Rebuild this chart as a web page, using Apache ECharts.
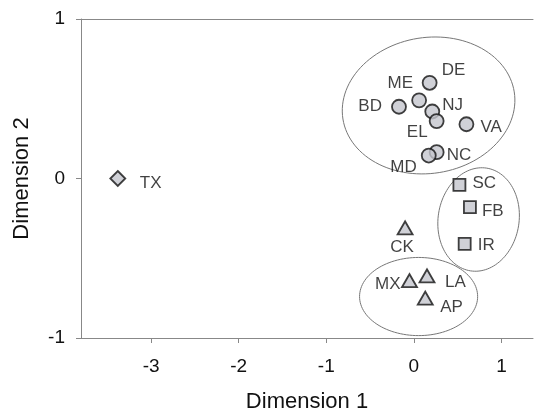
<!DOCTYPE html>
<html>
<head>
<meta charset="utf-8">
<script src="https://cdn.jsdelivr.net/npm/echarts@6/dist/echarts.min.js"></script>
<style>html,body{margin:0;padding:0;background:#fff;}#c{width:534px;height:414px;}</style>
</head>
<body>
<div id="c"></div>
<script>
// ---- data ----
const circleNames = ['DE', 'ME', 'BD', 'NJ', 'EL', 'VA', 'NC', 'MD'];
const circleX = [0.18, 0.06, -0.17, 0.21, 0.26, 0.60, 0.26, 0.17];
const circleY = [0.60, 0.49, 0.45, 0.42, 0.36, 0.34, 0.165, 0.144];

const squareNames = ['SC', 'FB', 'IR'];
const squareX = [0.52, 0.64, 0.58];
const squareY = [-0.04, -0.18, -0.41];

const triangleNames = ['CK', 'MX', 'LA', 'AP'];
const triangleX = [-0.10, -0.05, 0.15, 0.13];
const triangleY = [-0.31, -0.64, -0.61, -0.75];

const diamondNames = ['TX'];
const diamondX = [-3.38];
const diamondY = [0.0];

// cluster ellipses: centre x, centre y, half-width (x units), half-height (y units), tilt (deg)
const ellipseCX = [0.168, 0.739, 0.054];
const ellipseCY = [0.458, -0.257, -0.74];
const ellipseRX = [0.99, 0.462, 0.674];
const ellipseRY = [0.426, 0.326, 0.245];
const ellipseTilt = [9, -9, 0];

const xTicks = [-3, -2, -1, 0, 1];
const yTicks = [-1, 0, 1];

// ---- label placement (style) ----
const labelPlace = {
  TX: [22, 5, 'left'], DE: [12, -12, 'left'], ME: [-6, -17, 'right'], BD: [-17, 0, 'right'],
  NJ: [10, -6, 'left'], EL: [-9, 11, 'right'], VA: [14, 3, 'left'], NC: [10, 3, 'left'],
  MD: [-12, 12, 'right'], SC: [13, -2, 'left'], FB: [12, 4, 'left'], IR: [13, 1, 'left'],
  CK: [-3, 19, 'center'], MX: [-9, 4, 'right'], LA: [18, 7, 'left'], AP: [15, 9, 'left']
};

const FONT = '"Liberation Sans", Arial, sans-serif';
const fill = '#c4c6cd';
const TEXT = '#111';

function build(names, xs, ys) {
  return names.map((n, i) => {
    const p = labelPlace[n];
    return {
      name: n,
      value: [xs[i], ys[i]],
      label: { show: true, position: 'inside', offset: [p[0], p[1]], align: p[2], verticalAlign: 'middle' }
    };
  });
}

const labelStyle = { formatter: '{b}', fontFamily: FONT, fontSize: 17, color: TEXT };
const itemStyle = { color: fill, borderColor: '#111', borderWidth: 1.8 };

const ellipseData = ellipseCX.map((c, i) => [c, ellipseCY[i], ellipseRX[i], ellipseRY[i], ellipseTilt[i]]);

const chart = echarts.init(document.getElementById('c'), null, { renderer: 'canvas' });
chart.setOption({
  animation: false,
  backgroundColor: '#fff',
  grid: { left: 81, top: 19, right: 1, bottom: 76, containLabel: false, outerBoundsMode: 'none' },
  xAxis: [{
    type: 'value', min: -3.8, max: 1.36,
    splitLine: { show: false },
    axisLine: { show: true, onZero: false, lineStyle: { color: '#888', width: 1 } },
    axisTick: { show: true, inside: false, length: 5, customValues: xTicks, lineStyle: { color: '#888' } },
    axisLabel: { customValues: xTicks, fontFamily: FONT, fontSize: 19, color: TEXT, margin: 19 },
    name: 'Dimension 1', nameLocation: 'middle', nameGap: 53,
    nameTextStyle: { fontFamily: FONT, fontSize: 22, color: TEXT }
  }, {
    type: 'value', position: 'top', min: -3.8, max: 1.36,
    splitLine: { show: false }, axisTick: { show: false }, axisLabel: { show: false },
    axisLine: { show: true, onZero: false, lineStyle: { color: '#888', width: 1 } }
  }],
  yAxis: {
    type: 'value', min: -1, max: 1, interval: 1,
    splitLine: { show: false },
    axisLine: { show: true, onZero: false, lineStyle: { color: '#888', width: 1 } },
    axisTick: { show: true, inside: false, length: 5, lineStyle: { color: '#888' } },
    axisLabel: { fontFamily: FONT, fontSize: 19, color: TEXT, margin: 16 },
    name: 'Dimension 2', nameLocation: 'middle', nameGap: 48, nameRotate: 90,
    nameTextStyle: { fontFamily: FONT, fontSize: 22, color: TEXT }
  },
  series: [
    {
      type: 'custom', silent: true, z: 1,
      data: ellipseData,
      renderItem: function (params, api) {
        const c = api.coord([api.value(0), api.value(1)]);
        const rx = api.size([api.value(2), 0])[0];
        const ry = api.size([0, api.value(3)])[1];
        const t = api.value(4) * Math.PI / 180;
        const pts = [];
        for (let k = 0; k < 120; k++) {
          const a = k / 120 * Math.PI * 2;
          const ex = rx * Math.cos(a), ey = ry * Math.sin(a);
          pts.push([c[0] + ex * Math.cos(t) - ey * Math.sin(t), c[1] - (ex * Math.sin(t) + ey * Math.cos(t))]);
        }
        return { type: 'polygon', shape: { points: pts }, style: { fill: 'none', stroke: '#777', lineWidth: 1 } };
      }
    },
    { type: 'scatter', z: 3, symbol: 'circle', symbolSize: 14, data: build(circleNames, circleX, circleY), itemStyle: itemStyle, label: labelStyle },
    { type: 'scatter', z: 3, symbol: 'rect', symbolSize: 12, data: build(squareNames, squareX, squareY), itemStyle: itemStyle, label: labelStyle },
    { type: 'scatter', z: 3, symbol: 'triangle', symbolSize: [15, 13], data: build(triangleNames, triangleX, triangleY), itemStyle: itemStyle, label: labelStyle },
    { type: 'scatter', z: 3, symbol: 'diamond', symbolSize: 15, data: build(diamondNames, diamondX, diamondY), itemStyle: itemStyle, label: labelStyle }
  ]
});
</script>
</body>
</html>
